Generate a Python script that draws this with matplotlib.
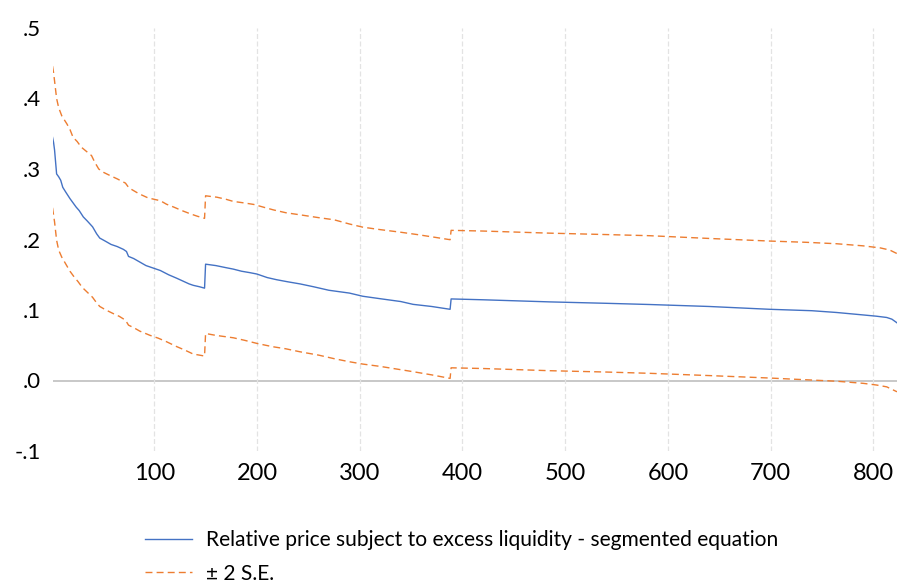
import matplotlib
matplotlib.use("Agg")
import matplotlib.pyplot as plt
from matplotlib.lines import Line2D

plt.rcParams['font.family'] = ['Lato', 'DejaVu Sans']

# Observation index and estimated relative price (segmented equation)
price_obs = [1, 2, 3, 4, 5, 7, 9, 11, 14, 18, 21, 24, 27, 31, 35, 40, 44, 47, 52, 58,
             64, 70, 73, 75, 80, 86, 92, 96, 102, 106, 114, 122, 128, 134, 138, 144, 149,
             150, 160, 170, 177, 185, 193, 200, 210, 219, 230, 242, 255, 270, 290, 303,
             320, 340, 352, 370, 388, 389, 420, 485, 540, 582, 640, 699, 740, 764, 790,
             803, 813, 818, 823]
price = [0.345, 0.338, 0.327, 0.310, 0.293, 0.289, 0.284, 0.274, 0.267, 0.258, 0.252,
         0.246, 0.241, 0.232, 0.226, 0.218, 0.208, 0.202, 0.198, 0.193, 0.190, 0.186,
         0.183, 0.176, 0.173, 0.168, 0.163, 0.161, 0.158, 0.156, 0.150, 0.145, 0.141,
         0.137, 0.135, 0.133, 0.131, 0.165, 0.163, 0.160, 0.158, 0.155, 0.153, 0.151,
         0.146, 0.143, 0.140, 0.137, 0.133, 0.128, 0.124, 0.1195, 0.116, 0.112, 0.108,
         0.105, 0.101, 0.1157, 0.1145, 0.1115, 0.1095, 0.1078, 0.105, 0.101, 0.099,
         0.0965, 0.093, 0.0912, 0.0894, 0.087, 0.0818]

# Upper band (+2 S.E.)
upper_obs = [1, 2, 3, 5, 7, 10, 15, 18, 21, 25, 29, 34, 39, 42, 46, 51, 57, 64, 72, 75,
             78, 85, 94, 106, 112, 119, 127, 135, 142, 149, 150, 161, 170, 177, 187, 197,
             206, 216, 228, 242, 260, 275, 290, 303, 320, 339, 356, 372, 388, 389, 420,
             485, 540, 582, 640, 699, 735, 764, 790, 807, 816, 823]
upper = [0.446, 0.437, 0.425, 0.400, 0.387, 0.3755, 0.364, 0.356, 0.345, 0.339, 0.331,
         0.325, 0.319, 0.310, 0.300, 0.295, 0.2907, 0.286, 0.280, 0.274, 0.271, 0.265,
         0.259, 0.255, 0.250, 0.246, 0.241, 0.2365, 0.233, 0.230, 0.262, 0.260, 0.257,
         0.254, 0.252, 0.2497, 0.246, 0.242, 0.238, 0.235, 0.231, 0.228, 0.222, 0.2175,
         0.214, 0.2105, 0.207, 0.2034, 0.1997, 0.213, 0.212, 0.209, 0.207, 0.2054,
         0.2015, 0.1978, 0.196, 0.194, 0.191, 0.188, 0.185, 0.180]

# Lower band (-2 S.E.)
lower_obs = [1, 3, 5, 7, 10, 14, 18, 22, 26, 30, 35, 40, 44, 47, 53, 60, 66, 72, 75, 80,
             86, 96, 104, 112, 122, 130, 138, 144, 149, 150, 160, 177, 188, 200, 215, 228,
             242, 260, 275, 290, 303, 320, 352, 370, 388, 389, 420, 485, 540, 582, 640,
             699, 735, 764, 790, 803, 813, 823]
lower = [0.245, 0.225, 0.199, 0.185, 0.175, 0.165, 0.155, 0.147, 0.140, 0.132, 0.125,
         0.118, 0.110, 0.105, 0.100, 0.095, 0.091, 0.0856, 0.0785, 0.075, 0.070, 0.064,
         0.060, 0.055, 0.048, 0.043, 0.0375, 0.036, 0.0347, 0.0667, 0.064, 0.0606, 0.057,
         0.0526, 0.048, 0.045, 0.0407, 0.036, 0.031, 0.0266, 0.0233, 0.020, 0.0125, 0.008,
         0.003, 0.018, 0.017, 0.0139, 0.012, 0.0102, 0.007, 0.0035, 0.001, -0.001,
         -0.004, -0.0064, -0.009, -0.016]

x_ticks = [100, 200, 300, 400, 500, 600, 700, 800]
y_ticks = [-0.1, 0.0, 0.1, 0.2, 0.3, 0.4, 0.5]
y_tick_labels = ['-.1', '.0', '.1', '.2', '.3', '.4', '.5']

label_price = 'Relative price subject to excess liquidity - segmented equation'
label_band = '± 2 S.E.'

blue = '#4472C4'
orange = '#ED7D31'

W, H = 897, 584
fig = plt.figure(figsize=(W / 100, H / 100), dpi=100)
ax = fig.add_axes([52.5 / W, 1 - 451 / H, (W - 52.5) / W, (451 - 28) / H])

ax.plot(price_obs, price, color=blue, lw=1.0)
ax.plot(upper_obs, upper, color=orange, lw=1.0, ls=(0, (5, 3)))
ax.plot(lower_obs, lower, color=orange, lw=1.0, ls=(0, (5, 3)))

ax.axhline(0, color='#BFBFBF', lw=1.2, zorder=0)
for xt in x_ticks:
    ax.axvline(xt, color='#E3E3E3', lw=0.9, ls=(0, (4, 2)), zorder=0)

ax.set_xlim(1, 823)
ax.set_ylim(-0.1, 0.5)
ax.set_xticks(x_ticks)
ax.set_xticklabels([str(v) for v in x_ticks], fontsize=17)
ax.set_yticks(y_ticks)
ax.set_yticklabels(y_tick_labels, fontsize=16)
ax.tick_params(axis='both', length=0, colors='black')
ax.tick_params(axis='x', pad=8.5)
ax.tick_params(axis='y', pad=8.3)
for s in ax.spines.values():
    s.set_visible(False)

handles = [Line2D([], [], color=blue, lw=1.0),
           Line2D([], [], color=orange, lw=1.0, ls=(0, (5, 3)))]
fig.legend(handles, [label_price, label_band], loc='upper left',
           bbox_to_anchor=(145 / W, 1 - 530 / H), frameon=False, fontsize=15.1,
           handlelength=2.24, handletextpad=0.67, labelspacing=0.65,
           borderaxespad=0, borderpad=0)

fig.savefig('out.png', dpi=100)
